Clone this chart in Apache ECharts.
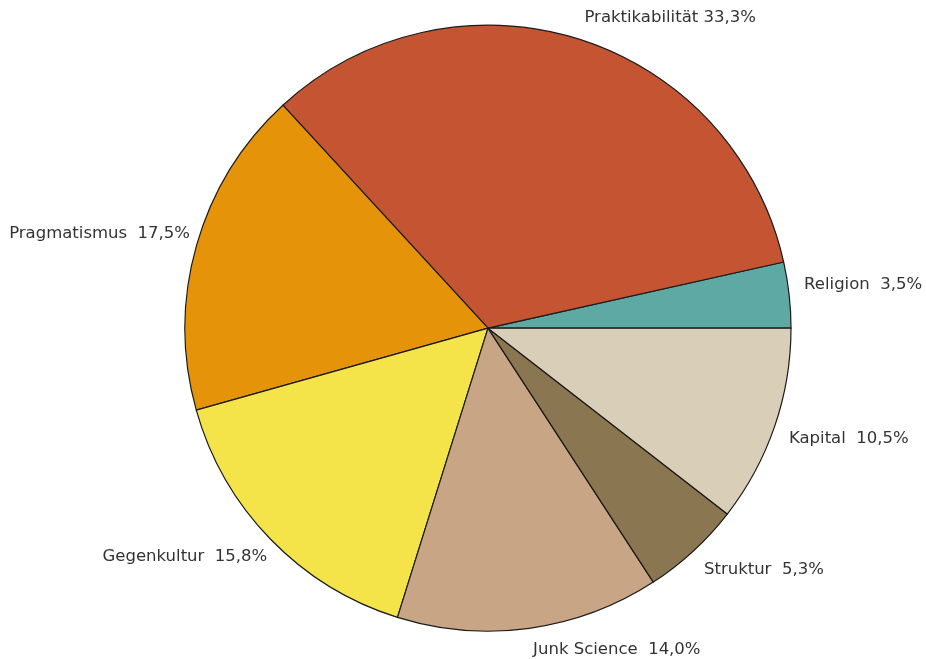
<!DOCTYPE html>
<html>
<head>
<meta charset="utf-8">
<script src="https://cdn.jsdelivr.net/npm/echarts@6/dist/echarts.min.js"></script>
<style>
html,body{margin:0;padding:0;background:#fff;}
#chart{width:926px;height:659px;}
</style>
</head>
<body>
<div id="chart"></div>
<script>
const categories = ['Religion', 'Praktikabilität', 'Pragmatismus', 'Gegenkultur', 'Junk Science', 'Struktur', 'Kapital'];
const values = [3.5, 33.3, 17.5, 15.8, 14.0, 5.3, 10.5];
const colors = ['#5ea9a3', '#c45432', '#e5940a', '#f4e449', '#c8a584', '#8a7651', '#d9cfb9'];

const chart = echarts.init(document.getElementById('chart'), null, {renderer: 'canvas'});
const data = categories.map((c, i) => ({name: c, value: values[i], itemStyle: {color: colors[i]}}));

chart.setOption({
  backgroundColor: '#ffffff',
  animation: false,
  series: [{
    type: 'pie',
    center: ['52.7%', '49.8%'],
    radius: 303,
    startAngle: 0,
    clockwise: false,
    avoidLabelOverlap: false,
    data: data,
    itemStyle: {borderColor: '#1a1a1a', borderWidth: 1.2},
    label: {
      show: true,
      position: 'outside',
      distanceToLabelLine: 2,
      color: '#333333',
      fontFamily: 'DejaVu Sans',
      fontSize: 16.5,
      formatter: p => p.name + (p.dataIndex === 1 ? ' ' : '  ') + p.value.toFixed(1).replace('.', ',') + '%'
    },
    labelLine: {show: false, length: 13, length2: 0},
    labelLayout: function (params) {
      const cy = chart.getHeight() * 0.498;
      const mid = params.labelRect.y + params.labelRect.height / 2;
      return {verticalAlign: mid < cy ? 'bottom' : 'top', dx: params.align === 'right' ? 8 : 0};
    },
    emphasis: {disabled: true}
  }]
});
</script>
</body>
</html>
